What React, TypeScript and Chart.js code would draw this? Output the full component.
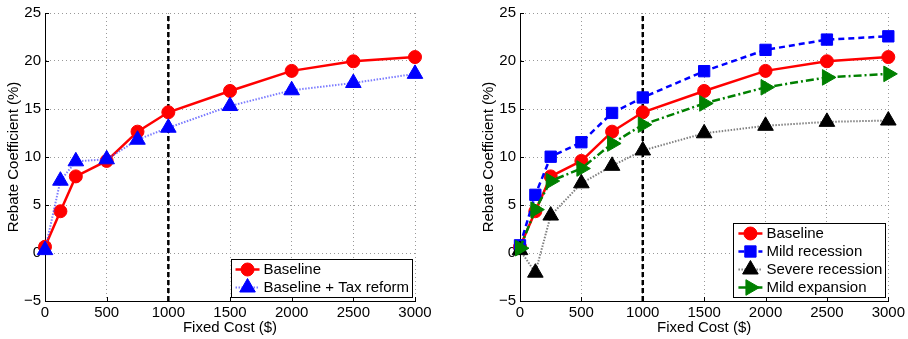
import React, { useEffect, useRef } from "react";
import { Chart, registerables } from "chart.js";
import { drawPoint } from "chart.js/helpers";

Chart.register(...registerables);

// ---------------- data ----------------
const fixedCost = [0, 125, 250, 500, 750, 1000, 1500, 2000, 2500, 3000];
const baseline = [0.65, 4.35, 7.98, 9.59, 12.64, 14.66, 16.88, 18.97, 19.97, 20.41];
const taxReform = [0.3, 7.53, 9.55, 9.76, 11.8, 13.05, 15.31, 16.95, 17.71, 18.66];
const mildRecession = [0.8, 6.06, 10.03, 11.54, 14.59, 16.2, 18.94, 21.16, 22.23, 22.57];
const severeRecession = [0.3, -2.05, 3.9, 7.26, 9.08, 10.68, 12.47, 13.25, 13.66, 13.8];
const mildExpansion = [0.5, 4.52, 7.5, 8.8, 11.4, 13.36, 15.58, 17.26, 18.29, 18.66];
const thresholdCost = 1000;
const xRange = [0, 3000];
const yRange = [-5, 25];
const xStep = 500;
const yStep = 5;
const xTitle = "Fixed Cost ($)";
const yTitle = "Rebate Coefficient (%)";

const FONT = '"Liberation Sans", Arial, Helvetica, sans-serif';

const toPts = (ys: number[]) => fixedCost.map((x, i) => ({ x, y: ys[i] }));

type Series = {
  label: string;
  values: number[];
  color: string;
  lineColor: string;
  width: number;
  dash: number[];
  style: string;
  radius: number;
  rotation?: number;
};

function makeDatasets(series: Series[]) {
  const n = series.length;
  const ds: any[] = [
    {
      label: "threshold",
      data: [
        { x: thresholdCost, y: yRange[0] },
        { x: thresholdCost, y: yRange[1] },
      ],
      borderColor: "#000",
      borderWidth: 2.5,
      borderDash: [5, 3],
      pointRadius: 0,
      hideInLegend: true,
      order: n + 1,
      clip: false,
    },
  ];
  series.forEach((s, i) => {
    ds.push({
      label: s.label,
      data: toPts(s.values),
      borderColor: s.lineColor,
      borderWidth: s.width,
      borderDash: s.dash,
      backgroundColor: s.color,
      pointBackgroundColor: s.color,
      pointBorderColor: s.color,
      pointBorderWidth: 1,
      pointStyle: s.style,
      pointRadius: s.radius,
      pointRotation: s.rotation || 0,
      markerColor: s.color,
      order: n - i,
      clip: false,
    });
  });
  return ds;
}

const leftSeries: Series[] = [
  { label: "Baseline", values: baseline, color: "#ff0000", lineColor: "#ff0000", width: 2.5, dash: [], style: "circle", radius: 6.5 },
  { label: "Baseline + Tax reform", values: taxReform, color: "#0000ff", lineColor: "rgba(70,70,255,0.7)", width: 2, dash: [1.5, 1.5], style: "triangle", radius: 9 },
];

const rightSeries: Series[] = [
  { label: "Baseline", values: baseline, color: "#ff0000", lineColor: "#ff0000", width: 2.5, dash: [], style: "circle", radius: 6.5 },
  { label: "Mild recession", values: mildRecession, color: "#0000ff", lineColor: "#0000ff", width: 2.5, dash: [6, 4], style: "rect", radius: 8 },
  { label: "Severe recession", values: severeRecession, color: "#000000", lineColor: "rgba(0,0,0,0.5)", width: 2, dash: [1.5, 1.5], style: "triangle", radius: 9 },
  { label: "Mild expansion", values: mildExpansion, color: "#008000", lineColor: "#008000", width: 2.5, dash: [8, 3, 2, 3], style: "triangle", radius: 9, rotation: 90 },
];

const boxLegend = {
  id: "boxLegend",
  afterDraw(chart: any) {
    const { ctx, chartArea: area } = chart;
    const items = chart.data.datasets.filter((d: any) => !d.hideInLegend);
    ctx.save();
    ctx.font = `15px ${FONT}`;
    const rowH = 18;
    let tw = 0;
    items.forEach((d: any) => {
      tw = Math.max(tw, ctx.measureText(d.label).width);
    });
    const boxW = 33 + tw + 3;
    const boxH = rowH * items.length + 2;
    const right = area.right - 3;
    const bottom = area.bottom - 4;
    const left = right - boxW;
    const top = bottom - boxH;
    ctx.fillStyle = "#fff";
    ctx.fillRect(left, top, boxW, boxH);
    ctx.strokeStyle = "#000";
    ctx.lineWidth = 1;
    ctx.setLineDash([]);
    ctx.strokeRect(Math.round(left) + 0.5, Math.round(top) + 0.5, Math.round(boxW), Math.round(boxH));
    items.forEach((d: any, i: number) => {
      const cy = top + 10.5 + i * rowH;
      ctx.save();
      ctx.strokeStyle = d.borderColor;
      ctx.lineWidth = d.borderWidth;
      ctx.setLineDash(d.borderDash || []);
      ctx.beginPath();
      ctx.moveTo(left + 5, cy);
      ctx.lineTo(left + 29, cy);
      ctx.stroke();
      ctx.restore();
      ctx.save();
      ctx.fillStyle = d.markerColor;
      ctx.strokeStyle = d.markerColor;
      ctx.setLineDash([]);
      drawPoint(ctx, { pointStyle: d.pointStyle, radius: d.pointRadius, rotation: d.pointRotation, borderWidth: 1 }, left + 17, cy);
      ctx.restore();
      ctx.fillStyle = "#000";
      ctx.textBaseline = "middle";
      ctx.textAlign = "left";
      ctx.fillText(d.label, left + 33, cy + 0.5);
    });
    ctx.restore();
  },
};

const innerTicks = {
  id: "innerTicks",
  beforeDatasetsDraw(chart: any) {
    const { ctx, chartArea: area, scales } = chart;
    ctx.save();
    ctx.strokeStyle = "#000";
    ctx.lineWidth = 1;
    ctx.setLineDash([]);
    ctx.beginPath();
    scales.x.ticks.forEach((t: any) => {
      const px = Math.round(scales.x.getPixelForValue(t.value)) + 0.5;
      ctx.moveTo(px, area.bottom);
      ctx.lineTo(px, area.bottom - 4);
    });
    scales.y.ticks.forEach((t: any) => {
      const py = Math.round(scales.y.getPixelForValue(t.value)) + 0.5;
      ctx.moveTo(area.left, py);
      ctx.lineTo(area.left + 4, py);
    });
    ctx.stroke();
    ctx.restore();
  },
};

function Panel({ series, padLeft, padRight }: { series: Series[]; padLeft: number; padRight: number }) {
  const ref = useRef<HTMLCanvasElement>(null);
  useEffect(() => {
    if (!ref.current) return;
    Chart.defaults.color = "#000";
    Chart.defaults.font.family = FONT;
    Chart.defaults.font.size = 15;
    const chart = new Chart(ref.current, {
      type: "line",
      data: { datasets: makeDatasets(series) },
      plugins: [innerTicks, boxLegend],
      options: {
        responsive: false,
        maintainAspectRatio: false,
        animation: false,
        events: [],
        layout: { padding: { left: padLeft, right: padRight, top: 9, bottom: 0 } },
        plugins: { legend: { display: false }, tooltip: { enabled: false } },
        scales: {
          x: {
            type: "linear",
            min: xRange[0],
            max: xRange[1],
            afterFit: (s: any) => {
              s.height = 38;
            },
            ticks: {
              stepSize: xStep,
              padding: 3,
              color: "#000",
              font: { size: 15 },
              maxRotation: 0,
              callback: (v: any) => String(v),
            },
            grid: { color: "#999", drawTicks: false, lineWidth: 1 },
            border: { color: "#000", width: 1, dash: [1, 3] },
            title: { display: true, text: xTitle, color: "#000", font: { size: 15 }, padding: { top: 0, bottom: 2 } },
          },
          y: {
            type: "linear",
            min: yRange[0],
            max: yRange[1],
            afterFit: (s: any) => {
              s.width = 45;
            },
            ticks: {
              stepSize: yStep,
              padding: 4,
              color: "#000",
              font: { size: 15 },
              callback: (v: any) => (v < 0 ? "\u2212" + Math.abs(v) : String(v)),
            },
            grid: { color: "#999", drawTicks: false, lineWidth: 1 },
            border: { color: "#000", width: 1, dash: [1, 3] },
            title: { display: true, text: yTitle, color: "#000", font: { size: 15 }, padding: { top: 5, bottom: 0 } },
          },
        },
      } as any,
    });
    return () => chart.destroy();
  }, []);
  return (
    <div style={{ width: 454, height: 339 }}>
      <canvas ref={ref} width={454} height={339} style={{ display: "block" }} />
    </div>
  );
}

export default function App() {
  return (
    <div style={{ position: "fixed", left: 0, top: 0, width: 908, height: 339, display: "flex", background: "#fff" }}>
      <Panel series={leftSeries} padLeft={0} padRight={39} />
      <Panel series={rightSeries} padLeft={21} padRight={17} />
    </div>
  );
}
